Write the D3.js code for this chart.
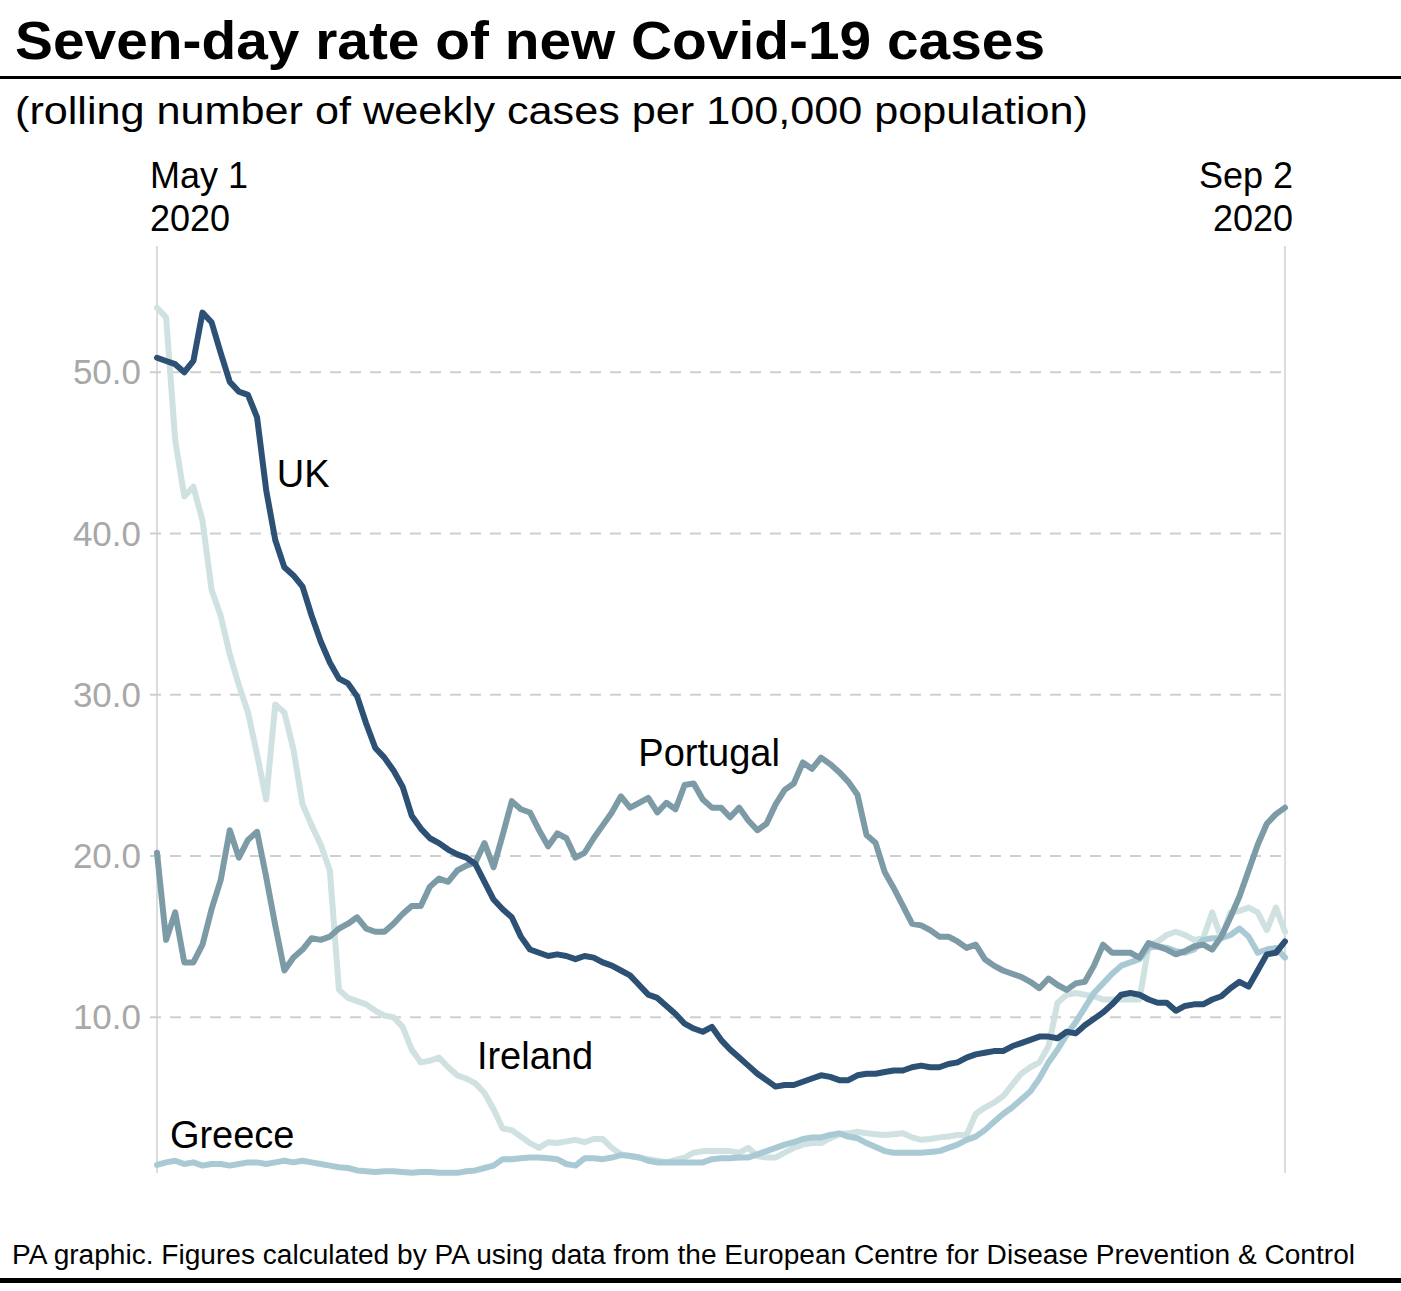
<!DOCTYPE html>
<html>
<head>
<meta charset="utf-8">
<script src="https://cdn.jsdelivr.net/npm/d3@7"></script>
<style>
  html, body { margin: 0; padding: 0; background: #ffffff; }
  svg { display: block; }
  text { font-family: "Liberation Sans", Arial, Helvetica, sans-serif; }
</style>
</head>
<body>
<svg id="chart" width="1401" height="1291"></svg>
<script>
// ---------------- data ----------------
const startDate = "2020-05-01";
const endDate = "2020-09-02";
const xTickLabels = [["May 1", "2020"], ["Sep 2", "2020"]];
const yTicks = [10, 20, 30, 40, 50];

const seriesNames = ["Ireland", "Greece", "Portugal", "UK"];

const uk = [50.9,50.7,50.5,50.0,50.7,53.7,53.1,51.2,49.4,48.8,
  48.6,47.2,42.7,39.6,37.9,37.4,36.7,34.9,33.3,32.0,
  31.0,30.7,29.9,28.2,26.7,26.1,25.3,24.3,22.5,21.7,
  21.1,20.8,20.4,20.1,19.9,19.5,18.4,17.3,16.7,16.2,
  15.0,14.2,14.0,13.8,13.9,13.8,13.6,13.8,13.7,13.4,
  13.2,12.9,12.6,12.0,11.4,11.2,10.7,10.2,9.6,9.3,
  9.1,9.4,8.6,8.0,7.5,7.0,6.5,6.1,5.7,5.8,
  5.8,6.0,6.2,6.4,6.3,6.1,6.1,6.4,6.5,6.5,
  6.6,6.7,6.7,6.9,7.0,6.9,6.9,7.1,7.2,7.5,
  7.7,7.8,7.9,7.9,8.2,8.4,8.6,8.8,8.8,8.7,
  9.1,9.0,9.5,9.9,10.3,10.8,11.4,11.5,11.4,11.1,
  10.9,10.9,10.4,10.7,10.8,10.8,11.1,11.3,11.8,12.2,
  11.9,12.9,13.9,14.0,14.7];

const portugal = [20.2,14.8,16.5,13.4,13.4,14.5,16.7,18.5,21.6,19.9,
  21.0,21.5,18.7,15.7,12.9,13.7,14.2,14.9,14.8,15.0,
  15.5,15.8,16.2,15.5,15.3,15.3,15.8,16.4,16.9,16.9,
  18.1,18.6,18.4,19.1,19.4,19.6,20.8,19.3,21.3,23.4,
  22.9,22.7,21.6,20.6,21.4,21.1,19.9,20.2,21.1,21.9,
  22.7,23.7,23.0,23.3,23.6,22.7,23.3,22.9,24.4,24.5,
  23.5,23.0,23.0,22.4,23.0,22.2,21.6,22.0,23.2,24.1,
  24.5,25.8,25.4,26.1,25.7,25.2,24.6,23.8,21.3,20.8,
  19.0,18.0,16.9,15.8,15.7,15.4,15.0,15.0,14.7,14.3,
  14.5,13.6,13.2,12.9,12.7,12.5,12.2,11.8,12.4,12.0,
  11.7,12.1,12.2,13.2,14.5,14.0,14.0,14.0,13.7,14.6,
  14.4,14.2,13.9,14.1,14.4,14.5,14.2,15.0,16.2,17.5,
  19.1,20.7,22.0,22.6,23.0];

const ireland = [54.0,53.4,45.8,42.3,42.9,40.8,36.5,34.9,32.5,30.6,
  28.9,26.3,23.5,29.4,28.9,26.6,23.2,21.9,20.7,19.1,
  11.7,11.2,11.0,10.8,10.4,10.1,10.0,9.4,8.0,7.2,
  7.3,7.5,6.9,6.4,6.2,5.9,5.3,4.3,3.1,3.0,
  2.6,2.2,1.9,2.25,2.2,2.3,2.4,2.25,2.45,2.45,
  1.9,1.5,1.4,1.3,1.2,1.1,1.0,1.15,1.3,1.6,
  1.7,1.7,1.7,1.7,1.6,1.9,1.4,1.3,1.3,1.6,
  1.9,2.1,2.2,2.2,2.5,2.75,2.8,2.9,2.8,2.75,
  2.7,2.75,2.8,2.55,2.4,2.45,2.55,2.6,2.7,2.7,
  4.0,4.4,4.7,5.1,5.8,6.5,6.9,7.2,8.2,10.9,
  11.4,11.5,11.4,11.3,11.1,11.1,11.1,11.1,11.1,14.4,
  14.7,15.1,15.3,15.1,14.8,14.9,16.5,14.9,16.5,16.6,
  16.8,16.5,15.4,16.8,15.3];

const greece = [0.84,1.0,1.1,0.9,1.0,0.8,0.9,0.9,0.8,0.9,
  1.0,1.0,0.9,1.0,1.1,1.0,1.1,1.0,0.9,0.8,
  0.7,0.65,0.5,0.45,0.4,0.45,0.45,0.4,0.35,0.4,
  0.4,0.35,0.35,0.35,0.45,0.5,0.65,0.8,1.2,1.2,
  1.25,1.3,1.3,1.25,1.2,0.9,0.8,1.25,1.25,1.2,
  1.3,1.45,1.4,1.3,1.1,1.0,1.0,1.0,1.0,1.0,
  1.0,1.2,1.25,1.25,1.3,1.3,1.5,1.7,1.9,2.1,
  2.25,2.45,2.55,2.55,2.7,2.8,2.6,2.5,2.2,1.95,
  1.7,1.6,1.6,1.6,1.6,1.65,1.7,1.9,2.1,2.4,
  2.6,3.0,3.5,4.0,4.4,4.9,5.4,6.2,7.2,8.0,
  8.9,9.7,10.6,11.5,12.1,12.7,13.2,13.4,13.6,14.3,
  14.4,14.3,14.1,14.0,14.2,14.8,14.9,14.9,15.1,15.5,
  15.0,14.0,14.2,14.3,13.7];

// ---------------- chart ----------------
const parse = d3.utcParse("%Y-%m-%d");
const parseT = d3.utcParse("%Y-%m-%dT%H:%M");
const d0 = parse(startDate), d1 = parse(endDate);
const dates = d3.utcDay.range(d0, d3.utcDay.offset(d1, 1));

const seriesData = { UK: uk, Portugal: portugal, Ireland: ireland, Greece: greece };
const colors = { UK: "#2c5175", Portugal: "#7c9ba7", Ireland: "#cfe1e0", Greece: "#a9cad4" };
const labelPos = {
  UK: { date: "2020-05-14T04:00", v: 42.9 },
  Portugal: { date: "2020-06-22T22:00", v: 25.6 },
  Ireland: { date: "2020-06-05T04:00", v: 6.8 },
  Greece: { date: "2020-05-02T10:00", v: 1.9 }
};

const svg = d3.select("#chart");
svg.append("rect").attr("width", 1401).attr("height", 1291).attr("fill", "#fff");

const x = d3.scaleUtc().domain([d0, d1]).range([157, 1285]);
const y = d3.scaleLinear().domain([0, 50]).range([1178.5, 372.25]);

// Title
svg.append("text").attr("x", 15).attr("y", 59)
  .attr("font-size", 53).attr("font-weight", "bold").attr("fill", "#000")
  .attr("textLength", 1030).attr("lengthAdjust", "spacingAndGlyphs")
  .text("Seven-day rate of new Covid-19 cases");
svg.append("rect").attr("x", 0).attr("y", 76).attr("width", 1401).attr("height", 3).attr("fill", "#000");
svg.append("text").attr("x", 15).attr("y", 124)
  .attr("font-size", 38).attr("fill", "#000")
  .attr("textLength", 1073).attr("lengthAdjust", "spacingAndGlyphs")
  .text("(rolling number of weekly cases per 100,000 population)");

// vertical date lines
const vDates = [d0, d1];
svg.append("g").selectAll("line").data(vDates).join("line")
  .attr("x1", d => x(d)).attr("x2", d => x(d))
  .attr("y1", 246).attr("y2", 1173)
  .attr("stroke", "#dcdcdc").attr("stroke-width", 2);

// x tick labels
const xl = svg.append("g");
vDates.forEach((d, i) => {
  const anchor = i === 0 ? "start" : "end";
  const tx = i === 0 ? x(d) - 7 : x(d) + 8;
  xl.append("text").attr("x", tx).attr("y", 188).attr("font-size", 36)
    .attr("text-anchor", anchor).attr("fill", "#000").text(xTickLabels[i][0]);
  xl.append("text").attr("x", tx).attr("y", 231).attr("font-size", 36)
    .attr("text-anchor", anchor).attr("fill", "#000").text(xTickLabels[i][1]);
});

// horizontal gridlines + y labels
const grid = svg.append("g");
grid.selectAll("line").data(yTicks).join("line")
  .attr("x1", 150).attr("x2", 1285)
  .attr("y1", d => y(d)).attr("y2", d => y(d))
  .attr("stroke", "#cfcfcf").attr("stroke-width", 2)
  .attr("stroke-dasharray", "11,9");
grid.selectAll("text").data(yTicks).join("text")
  .attr("x", 141).attr("y", d => y(d) + 12)
  .attr("text-anchor", "end").attr("font-size", 35).attr("fill", "#a8a8a8")
  .text(d => d3.format(".1f")(d));

// lines
const line = d3.line().x((d, i) => x(dates[i])).y(d => y(d));
const lg = svg.append("g");
seriesNames.forEach(name => {
  lg.append("path").datum(seriesData[name])
    .attr("d", line).attr("fill", "none")
    .attr("stroke", colors[name]).attr("stroke-width", 6)
    .attr("stroke-linejoin", "round").attr("stroke-linecap", "round");
});

// series labels
Object.keys(labelPos).forEach(name => {
  const p = labelPos[name];
  svg.append("text").attr("x", x(parseT(p.date))).attr("y", y(p.v))
    .attr("font-size", 38).attr("fill", "#000").text(name);
});

// footer
svg.append("text").attr("x", 12).attr("y", 1264)
  .attr("font-size", 27).attr("fill", "#000")
  .attr("textLength", 1343).attr("lengthAdjust", "spacingAndGlyphs")
  .text("PA graphic. Figures calculated by PA using data from the European Centre for Disease Prevention & Control");
svg.append("rect").attr("x", 0).attr("y", 1278).attr("width", 1401).attr("height", 5).attr("fill", "#000");
</script>
</body>
</html>
